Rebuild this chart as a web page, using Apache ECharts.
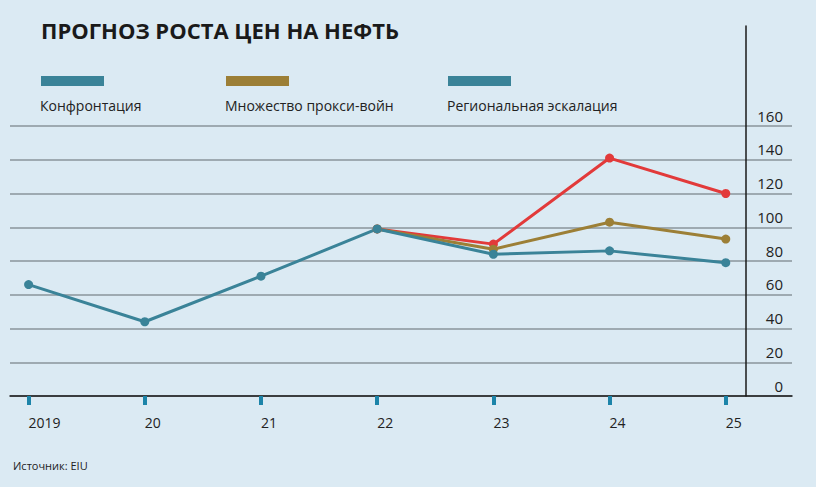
<!DOCTYPE html>
<html>
<head>
<meta charset="utf-8">
<script src="https://cdn.jsdelivr.net/npm/echarts@6/dist/echarts.min.js"></script>
<style>
  html, body { margin: 0; padding: 0; background: #dbeaf3; }
  #chart { width: 816px; height: 487px; }
</style>
</head>
<body>
<div id="chart"></div>
<script>
// years and prices
const years = [2019, 2020, 2021, 2022, 2023, 2024, 2025]
const confront = [66, 44, 71, 99, 84, 86, 79]
const proxyWars = [null, null, null, 99, 87, 103, 93]
const regional = [null, null, null, 99, 90, 141, 120]
const yTicks = [0, 20, 40, 60, 80, 100, 120, 140, 160]
const legendNames = ['Конфронтация', 'Множество прокси-войн', 'Региональная эскалация']

const C_TEAL = '#3a8398', C_OLIVE = '#9c7f36', C_RED = '#e23a3a'
const FONT = '"Open Sans", "Noto Sans", sans-serif'

const pairs = arr => years.map((y, i) => [y, arr[i]])

const chart = echarts.init(document.getElementById('chart'), null, { renderer: 'svg' })

function line(name, data, color) {
  return {
    name, type: 'line', data: pairs(data), xAxisIndex: 0, yAxisIndex: 0,
    symbol: 'circle', symbolSize: 9, connectNulls: false,
    lineStyle: { color, width: 3 }, itemStyle: { color },
    emphasis: { disabled: true }, animation: false
  }
}

function legendItem(x, color, text) {
  return {
    type: 'group', left: x, top: 76,
    children: [
      { type: 'rect', shape: { x: 0, y: 0, width: 63, height: 10 }, style: { fill: color } },
      { type: 'text', x: -1, y: 29, style: { text, fill: '#222', font: '14px ' + FONT, verticalAlign: 'middle' } }
    ]
  }
}

chart.setOption({
  backgroundColor: '#dbeaf3',
  title: {
    text: 'ПРОГНОЗ РОСТА ЦЕН НА НЕФТЬ', left: 36, top: 14,
    textStyle: { fontFamily: FONT, fontSize: 22, fontWeight: 700, color: '#1a1a1a' }
  },
  graphic: [
    legendItem(40, C_TEAL, legendNames[0]),
    legendItem(225, C_OLIVE, legendNames[1]),
    legendItem(447, C_TEAL, legendNames[2]),
    {
      type: 'text', left: 13, top: 460,
      style: { text: 'Источник: EIU', fill: '#222', font: '11px ' + FONT }
    }
  ],
  grid: [
    { left: 10, right: 24, top: 126, bottom: 91 },
    { left: 10, right: 24, top: 26, bottom: 91 }
  ],
  xAxis: [{
    type: 'value', gridIndex: 0, min: 2018.84, max: 2025.57,
    axisLine: { show: true, lineStyle: { color: '#1a1a1a', width: 1.5 } },
    axisTick: { show: true, customValues: years, length: 9, lineStyle: { color: '#1c84a9', width: 4 } },
    axisLabel: {
      customValues: years, align: 'left', margin: 19,
      fontFamily: FONT, fontSize: 14, color: '#222',
      formatter: v => v === 2019 ? '2019' : String(v).slice(2)
    },
    splitLine: { show: false }
  }, {
    type: 'value', gridIndex: 1, min: 0, max: 1, show: false
  }],
  yAxis: [{
    type: 'value', gridIndex: 0, min: 0, max: 160, interval: 20,
    position: 'right', offset: -46,
    axisLine: { show: false, onZero: false }, axisTick: { show: false },
    axisLabel: {
      margin: 37, align: 'right', verticalAlign: 'bottom', padding: [0, 0, 3, 0],
      fontFamily: FONT, fontSize: 15, color: '#222'
    },
    splitLine: { lineStyle: { color: '#8a949b', width: 1.5 } }
  }, {
    type: 'value', gridIndex: 1, min: 0, max: 1,
    position: 'right', offset: -46,
    axisLine: { show: true, onZero: false, lineStyle: { color: '#1a1a1a', width: 1.5 } },
    axisTick: { show: false }, axisLabel: { show: false }, splitLine: { show: false }
  }],
  series: [
    line('Региональная эскалация', regional, C_RED),
    line('Множество прокси-войн', proxyWars, C_OLIVE),
    line('Конфронтация', confront, C_TEAL)
  ],
  animation: false
})
</script>
</body>
</html>
